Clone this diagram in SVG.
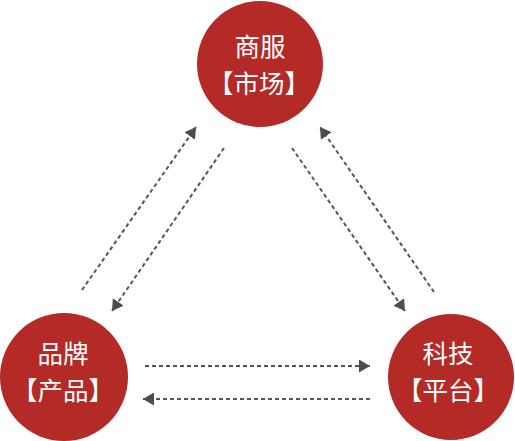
<svg xmlns="http://www.w3.org/2000/svg" width="515" height="441" viewBox="0 0 515 441">
<defs>
<style>
.node{fill:#b32a27;}
.lbl{fill:#ffffff;font-family:"Noto Sans CJK SC","Noto Sans",sans-serif;font-size:25.5px;text-anchor:middle;}
.conn{stroke:#555555;stroke-width:2;stroke-dasharray:4 3;fill:none;}
</style>
<marker id="ah" viewBox="0 0 11 13" refX="11" refY="6.5" markerWidth="11" markerHeight="13" markerUnits="userSpaceOnUse" orient="auto">
<path d="M0,0 L11,6.5 L0,13 Z" fill="#4d4d4d"/>
</marker>
</defs>
<rect width="515" height="441" fill="#ffffff"/>
<g id="connectors">
<line class="conn" x1="82" y1="290" x2="196" y2="127" marker-end="url(#ah)"/>
<line class="conn" x1="224" y1="148" x2="112" y2="311" marker-end="url(#ah)"/>
<line class="conn" x1="292" y1="148" x2="405" y2="311" marker-end="url(#ah)"/>
<line class="conn" x1="434" y1="292" x2="320" y2="127" marker-end="url(#ah)"/>
<line class="conn" x1="145" y1="366" x2="370" y2="366" marker-end="url(#ah)"/>
<line class="conn" x1="370" y1="399" x2="143" y2="399" marker-end="url(#ah)"/>
</g>
<g id="node-shangfu">
<circle class="node" cx="260" cy="64" r="63"/>
<text class="lbl" x="260" y="56">商服</text>
<text class="lbl" x="259" y="93">【市场】</text>
</g>
<g id="node-pinpai">
<circle class="node" cx="64" cy="377" r="64"/>
<text class="lbl" x="63" y="362.5">品牌</text>
<text class="lbl" x="63" y="399.5">【产品】</text>
</g>
<g id="node-keji">
<circle class="node" cx="451" cy="377" r="63"/>
<text class="lbl" x="448" y="362.5">科技</text>
<text class="lbl" x="448" y="399.5">【平台】</text>
</g>
</svg>
